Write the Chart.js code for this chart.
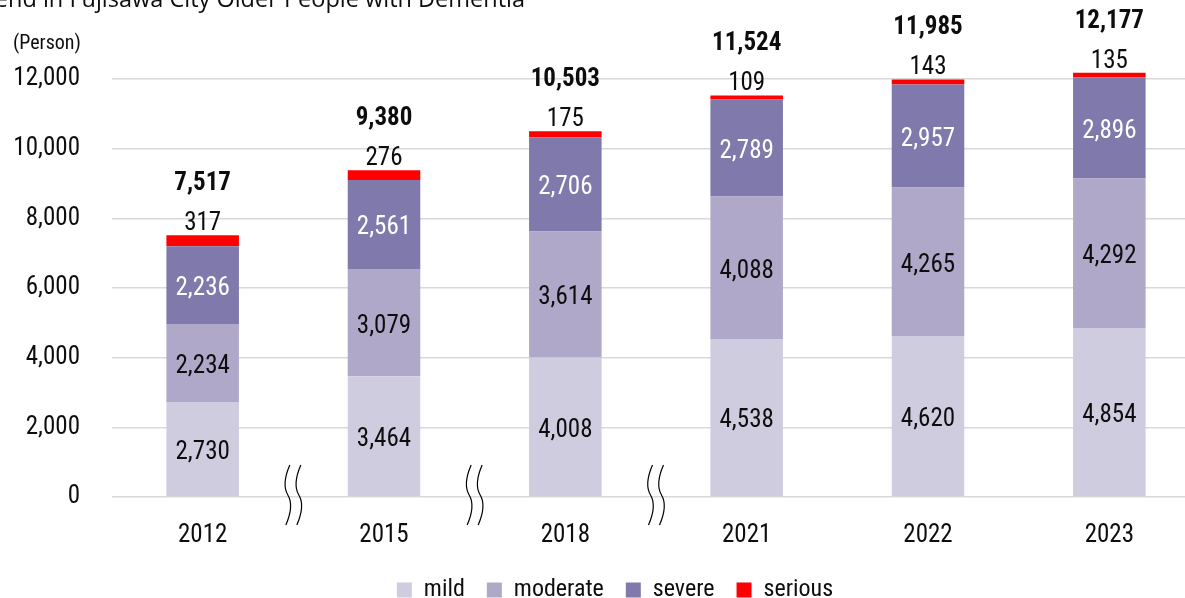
<!DOCTYPE html>
<html><head><meta charset="utf-8">
<script src="https://cdn.jsdelivr.net/npm/chart.js@4.4.1/dist/chart.umd.min.js"></script>
<style>
html,body{margin:0;padding:0;overflow:hidden;background:#fff;width:1185px;height:598px}
#wrap{position:relative;width:1200px;height:612px}
</style>
</head><body><div id="wrap"><canvas id="chart" width="1200" height="612"></canvas></div>
<script>
// ---- data ----
const chartTitle = 'Trend in Fujisawa City Older People with Dementia';
const unitLabel = '(Person)';
const years = ['2012', '2015', '2018', '2021', '2022', '2023'];
const seriesNames = ['mild', 'moderate', 'severe', 'serious'];
const mild = [2730, 3464, 4008, 4538, 4620, 4854];
const moderate = [2234, 3079, 3614, 4088, 4265, 4292];
const severe = [2236, 2561, 2706, 2789, 2957, 2896];
const serious = [317, 276, 175, 109, 143, 135];
const yTickValues = [0, 2000, 4000, 6000, 8000, 10000, 12000];

// ---- styles ----
const FAMILY = "'Roboto Condensed', 'Open Sans', sans-serif";
const TITLE_FAMILY = "'Open Sans', sans-serif";
const colors = ['#CFCCE0', '#AFA8C9', '#8079AB', '#FF0000'];
const fmt = v => v.toLocaleString('en-US');
const totals = years.map((_, i) => mild[i] + moderate[i] + severe[i] + serious[i]);

const labelPlugin = {
  id: 'valueLabels',
  afterDatasetsDraw(chart) {
    const ctx = chart.ctx;
    ctx.save();
    ctx.textAlign = 'center';
    ctx.textBaseline = 'alphabetic';
    const half = 25 * 0.356;
    [0, 1, 2].forEach(di => {
      const meta = chart.getDatasetMeta(di);
      const vals = chart.data.datasets[di].data;
      meta.data.forEach((bar, i) => {
        ctx.font = `25px ${FAMILY}`;
        ctx.fillStyle = di === 2 ? '#ffffff' : '#0d0d0d';
        ctx.fillText(fmt(vals[i]), bar.x, (bar.y + bar.base) / 2 + half + 1);
      });
    });
    const topMeta = chart.getDatasetMeta(3);
    topMeta.data.forEach((bar, i) => {
      ctx.fillStyle = '#0d0d0d';
      ctx.font = `25px ${FAMILY}`;
      ctx.fillText(fmt(serious[i]), bar.x, bar.y - 14 + half);
      ctx.font = `bold 25px ${FAMILY}`;
      ctx.fillText(fmt(totals[i]), bar.x, bar.y - 54 + half);
    });
    ctx.restore();
  },
  afterDraw(chart) {
    const ctx = chart.ctx;
    const xs = chart.scales.x;
    ctx.save();
    // title (cropped at top in the reference)
    ctx.fillStyle = '#0d0d0d';
    ctx.font = `23.5px ${TITLE_FAMILY}`;
    ctx.textAlign = 'right';
    ctx.textBaseline = 'alphabetic';
    ctx.fillText(chartTitle, 525, 7);
    // unit label
    ctx.font = `20px ${FAMILY}`;
    ctx.textAlign = 'left';
    ctx.fillText(unitLabel, 13, 49);
    // axis break marks between non-consecutive years
    ctx.strokeStyle = '#000';
    ctx.lineWidth = 1.2;
    for (let i = 0; i < years.length - 1; i++) {
      if (Number(years[i + 1]) - Number(years[i]) > 1) {
        const mx = (xs.getPixelForValue(i) + xs.getPixelForValue(i + 1)) / 2;
        [-5.5, 5.5].forEach(off => {
          const x = mx + off;
          ctx.beginPath();
          ctx.moveTo(x + 2, 465);
          ctx.bezierCurveTo(x - 5, 481, x - 3, 490, x, 495);
          ctx.bezierCurveTo(x + 3, 500, x + 5, 509, x - 2, 525);
          ctx.stroke();
        });
      }
    }
    ctx.restore();
  },
  afterLayout(chart) {
    if (chart.legend) { chart.legend.left += 15; chart.legend.right += 15; }
  }
};

const seriesData = [mild, moderate, severe, serious];
new Chart(document.getElementById('chart'), {
  type: 'bar',
  data: {
    labels: years,
    datasets: seriesNames.map((n, k) => ({
      label: n,
      data: seriesData[k],
      backgroundColor: colors[k],
      borderWidth: 0,
      barPercentage: 0.4,
      categoryPercentage: 1.0,
      clip: false
    }))
  },
  options: {
    responsive: false,
    animation: false,
    layout: { padding: { top: 79, left: 0, right: 0, bottom: 0 } },
    plugins: {
      tooltip: { enabled: false },
      legend: {
        position: 'bottom',
        labels: {
          boxWidth: 15, boxHeight: 15, padding: 22, color: '#0d0d0d',
          font: { family: FAMILY, size: 24 }
        }
      }
    },
    scales: {
      x: {
        stacked: true,
        grid: { display: false, drawTicks: false },
        border: { display: false },
        ticks: { color: '#0d0d0d', padding: 24, font: { family: FAMILY, size: 25 } },
        afterFit(s) { s.height = 59; }
      },
      y: {
        stacked: true,
        min: 0, max: 12000,
        afterBuildTicks(s) { s.ticks = yTickValues.map(v => ({ value: v })); },
        grid: { color: '#d9d9d9', lineWidth: 1.5, drawTicks: false },
        border: { display: false },
        ticks: {
          color: '#0d0d0d', padding: 32,
          font: { family: FAMILY, size: 25 },
          callback: v => fmt(v)
        },
        afterFit(s) { s.width = 112; }
      }
    }
  },
  plugins: [labelPlugin]
});
</script>
</body></html>
